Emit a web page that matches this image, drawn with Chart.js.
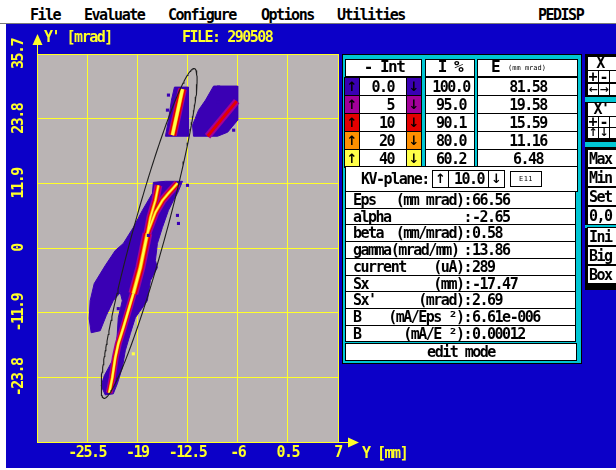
<!DOCTYPE html>
<html>
<head>
<meta charset="utf-8">
<title>PEDISP</title>
<script src="https://cdn.jsdelivr.net/npm/chart.js@4.4.1/dist/chart.umd.min.js"></script>
<style>
  html, body { margin: 0; padding: 0; }
  body { width: 616px; height: 470px; position: relative; overflow: hidden; background: #fff; }
  .box { position: absolute; box-sizing: border-box; }
  .t { position: absolute; font: bold 15px "DejaVu Sans Mono", monospace; letter-spacing: -1.5px;
       white-space: pre; line-height: 16px; color: #000; }
  .arr { font-family: "DejaVu Sans", sans-serif; }
  #menu { position: absolute; left: 0; top: 0; width: 616px; height: 23px; background: #fff; border-bottom: 1px solid #7a7a7a; }
  #screen { position: absolute; left: 6px; top: 24px; width: 610px; height: 444px; background: #0c00c8; }
  #plot { position: absolute; left: 6px; top: 24px; }
</style>
</head>
<body>
<div id="menu"></div>
<div id="screen"></div>
<canvas id="plot" width="414" height="444"></canvas>
<div id="ui"></div>
<script>
// ---- intensity levels (% of peak) and what they enclose ----
const intThresholds = ['0.0', '5', '10', '20', '40'];
const beamPercent   = ['100.0', '95.0', '90.1', '80.0', '60.2'];
const emittance     = ['81.58', '19.58', '15.59', '11.16', '6.48'];

// ---- beam parameters of the fitted ellipse ----
const paramNames  = ['Eps', 'alpha', 'beta', 'gamma(mrad/mm)', 'current', 'Sx', "Sx'", 'B', 'B'];
const paramUnits  = ['(mm mrad)', '', '(mm/mrad)', '', '(uA)', '(mm)', '(mrad)', '(mA/Eps ²)', '(mA/E ²)'];
const paramValues = ['66.56', '-2.65', '0.58', '13.86', '289', '-17.47', '2.69', '6.61e-006', '0.00012'];
const kvPlane = '10.0';
const fileName = '290508';

// ---- axes ----
const xTickValues = [-32, -25.5, -19, -12.5, -6, 0.5, 7];
const xTickLabels = ['', '-25.5', '-19', '-12.5', '-6', '0.5', '7'];
const yTickValues = [-35.7, -23.8, -11.9, 0, 11.9, 23.8, 35.7];
const yTickLabels = ['', '-23.8', '-11.9', '0', '11.9', '23.8', '35.7'];

// ---- measured distribution: outer (0 %) contours, Y [mm] / Y' [mrad] ----
const blobUpperLeft = [[-14.19,29.61],[-12.37,29.61],[-12.37,20.57],[-15.36,20.57],[-14.97,23.52],[-14.58,27.22]];
const blobUpperRight = [[-9.12,29.8],[-6.0,29.8],[-6.0,23.52],[-6.65,22.42],[-7.3,21.31],[-8.6,20.57],
  [-11.72,20.57],[-11.85,22.6],[-11.07,25.37],[-10.16,27.22]];
const blobMain = [[-16.92,12.08],[-15.36,12.27],[-13.15,12.27],[-13.8,10.06],[-14.32,8.76],[-14.97,6.92],
  [-15.75,3.78],[-16.4,0.83],[-16.66,-2.31],[-16.4,-3.6],[-17.31,-6.0],[-17.7,-9.69],[-19.26,-12.82],
  [-19.91,-15.77],[-20.56,-18.91],[-20.95,-22.05],[-21.6,-25.0],[-22.12,-26.84],[-23.16,-27.03],
  [-23.68,-25.37],[-23.29,-23.52],[-22.25,-20.76],[-21.73,-17.99],[-21.6,-15.77],[-21.47,-12.82],
  [-20.95,-9.69],[-21.21,-8.21],[-22.12,-9.69],[-23.03,-12.45],[-23.81,-15.22],[-24.98,-15.59],
  [-25.24,-13.01],[-25.11,-9.69],[-24.59,-6.55],[-23.16,-3.23],[-21.86,-0.46],[-20.82,0.83],
  [-19.52,3.78],[-18.35,6.92],[-17.05,10.06]];

// ---- ridges of the higher intensity levels ----
const coreUpperLeft  = [[-13.15,29.24],[-14.45,20.76]];
const coreUpperRight = [[-9.9,20.57],[-6.13,27.03]];
const ridgeBranchL   = [[-16.27,11.53],[-16.66,8.76],[-17.31,5.63],[-17.7,2.68]];
const ridgeBranchR   = [[-13.8,11.9],[-14.97,10.06],[-15.75,8.76],[-16.66,6.55],[-17.7,2.68]];
const ridgeUpper     = [[-17.7,2.68],[-18.61,-3.6],[-19.52,-8.39]];
const ridgeLower     = [[-19.52,-8.39],[-20.17,-11.53],[-20.82,-14.67],[-21.47,-17.62],[-21.86,-20.2],
  [-22.25,-23.89],[-22.64,-26.66]];

// ---- isolated cells ----
const strayCells = [[-14.97,28.14],[-15.1,25.37],[-8.47,29.61],[-8.6,26.84],[-6.52,21.68],[-12.5,11.53],
  [-13.8,6.0],[-13.67,4.52],[-17.57,2.31],[-22.77,-10.98],[-21.47,-11.16]];
const strayHot = [[-19.52,-19.47]];

// ---- look ----
const FONT = '"DejaVu Sans Mono", monospace';
const BLUE_BG = '#0c00c8', PLOT_BG = '#bab4b4', YELLOW = '#ffff28', CYAN = '#00c6d4';
const levelColors = ['#3a00b4', '#a2009a', '#e40000', '#ff9000', '#ffff48'];
// line widths (px) of the 5 %, 10 %, 20 %, 40 % levels along each ridge
const ridgeStyles = [
  { path: coreUpperLeft,  widths: [9, 7, 4, 3] },
  { path: coreUpperRight, widths: [7, 3, 0, 0] },
  { path: ridgeBranchL,   widths: [8, 5, 3, 1.5] },
  { path: ridgeBranchR,   widths: [8, 5, 3, 1.5] },
  { path: ridgeUpper,     widths: [10, 7, 4, 2.5] },
  { path: ridgeLower,     widths: [7, 4.5, 3, 2] }
];

const pts = a => a.map(p => ({ x: p[0], y: p[1] }));
const closed = a => pts(a.concat([a[0]]));

const datasets = [];
[blobUpperLeft, blobUpperRight, blobMain].forEach(b => datasets.push({
  data: closed(b), showLine: true, fill: 'shape', backgroundColor: levelColors[0],
  borderColor: levelColors[0], borderWidth: 1, pointRadius: 0, order: 20
}));
for (let lvl = 1; lvl <= 4; lvl++) {
  ridgeStyles.forEach(r => {
    if (!r.widths[lvl - 1]) return;
    datasets.push({
      data: pts(r.path), showLine: true, fill: false, borderColor: levelColors[lvl],
      borderWidth: r.widths[lvl - 1], borderCapStyle: 'butt', borderJoinStyle: 'round',
      pointRadius: 0, order: 20 - lvl * 3
    });
  });
}
datasets.push({ data: pts(strayCells), pointStyle: 'rect', pointRadius: 2.2, backgroundColor: levelColors[0], borderWidth: 0, order: 4 });
datasets.push({ data: pts(strayHot), pointStyle: 'rect', pointRadius: 2.2, backgroundColor: levelColors[4], borderWidth: 0, order: 4 });

// emittance ellipse from the Twiss parameters in the table
const eps = parseFloat(paramValues[0]), alpha = parseFloat(paramValues[1]), beta = parseFloat(paramValues[2]);
const cx = parseFloat(paramValues[5]), cxp = parseFloat(paramValues[6]);
const ellipse = [];
for (let k = 0; k <= 240; k++) {
  const t = 2 * Math.PI * k / 240;
  ellipse.push({ x: cx + Math.sqrt(eps * beta) * Math.cos(t),
                 y: cxp - Math.sqrt(eps / beta) * (alpha * Math.cos(t) + Math.sin(t)) });
}
datasets.push({ data: ellipse, showLine: true, fill: false, borderColor: '#1e1e1e', borderWidth: 1.1, pointRadius: 0, order: 1 });

// gray plot field, axis arrows
const screenPlugin = {
  id: 'screen',
  beforeDraw(chart) {
    const { ctx, chartArea: a } = chart;
    ctx.save();
    ctx.fillStyle = PLOT_BG;
    ctx.fillRect(a.left, a.top, a.right - a.left, a.bottom - a.top);
    ctx.restore();
    ctx.letterSpacing = '-1.5px';
  },
  afterDraw(chart) {
    const { ctx, chartArea: a } = chart;
    ctx.save();
    ctx.strokeStyle = YELLOW; ctx.fillStyle = YELLOW; ctx.lineWidth = 1;
    const yb = Math.round(a.bottom) + 0.5;
    ctx.beginPath(); ctx.moveTo(a.right, yb); ctx.lineTo(a.right + 11, yb); ctx.stroke();
    ctx.beginPath(); ctx.moveTo(a.right + 10, yb - 5); ctx.lineTo(a.right + 21, yb); ctx.lineTo(a.right + 10, yb + 5); ctx.closePath(); ctx.fill();
    const xl = Math.round(a.left) + 0.5;
    ctx.beginPath(); ctx.moveTo(xl, a.top); ctx.lineTo(xl, a.top - 10); ctx.stroke();
    ctx.beginPath(); ctx.moveTo(xl - 5, a.top - 9); ctx.lineTo(xl, a.top - 20); ctx.lineTo(xl + 5, a.top - 9); ctx.closePath(); ctx.fill();
    ctx.restore();
    ctx.letterSpacing = '0px';
  }
};

Chart.defaults.font.family = FONT;
const tickFont = { family: FONT, size: 15, weight: 'bold' };
new Chart(document.getElementById('plot'), {
  type: 'scatter',
  data: { datasets },
  options: {
    responsive: false, animation: false, devicePixelRatio: 1,
    layout: { padding: { left: 0, top: 30, right: 82, bottom: 0 } },
    plugins: { legend: { display: false }, tooltip: { enabled: false } },
    elements: { line: { tension: 0 } },
    events: [],
    scales: {
      x: {
        type: 'linear', min: -32, max: 7, z: 1,
        afterBuildTicks: s => { s.ticks = xTickValues.map(v => ({ value: v })); },
        ticks: { color: YELLOW, font: tickFont, padding: 2, maxRotation: 0, autoSkip: false,
                 callback: (v, i) => xTickLabels[i] },
        grid: { color: YELLOW, lineWidth: 1, drawTicks: false },
        border: { display: true, color: YELLOW, width: 1 },
        afterFit: s => { s.height = 26; }
      },
      y: {
        type: 'linear', min: -35.7, max: 35.7, z: 1,
        afterBuildTicks: s => { s.ticks = yTickValues.map(v => ({ value: v })); },
        ticks: { color: YELLOW, font: tickFont, padding: -5, minRotation: 90, maxRotation: 90,
                 crossAlign: 'center', autoSkip: false, callback: (v, i) => yTickLabels[i] },
        grid: { color: YELLOW, lineWidth: 1, drawTicks: false },
        border: { display: true, color: YELLOW, width: 1 },
        afterFit: s => { s.width = 31; }
      }
    }
  },
  plugins: [screenPlugin]
});

// ---- text-mode interface around the plot ----
const ui = document.getElementById('ui');
function box(x, y, w, h, bg, border) {
  const d = document.createElement('div');
  d.className = 'box';
  Object.assign(d.style, { left: x + 'px', top: y + 'px', width: w + 'px', height: h + 'px',
    background: bg || '#fff', border: border === undefined ? '1px solid #000' : border });
  ui.appendChild(d);
  return d;
}
function text(s, x, y, opt = {}) {
  const d = document.createElement('div');
  d.className = 't' + (opt.cls ? ' ' + opt.cls : '');
  d.textContent = s;
  d.style.top = (y - 8) + 'px';
  if (opt.size) d.style.fontSize = opt.size + 'px';
  if (opt.ls !== undefined) d.style.letterSpacing = opt.ls + 'px';
  if (opt.color) d.style.color = opt.color;
  if (opt.weight) d.style.fontWeight = opt.weight;
  const align = opt.align || 'left';
  if (align === 'left') d.style.left = x + 'px';
  else if (align === 'center') { d.style.left = (x - 100) + 'px'; d.style.width = '200px'; d.style.textAlign = 'center'; }
  else { d.style.left = (x - 200) + 'px'; d.style.width = '200px'; d.style.textAlign = 'right'; }
  ui.appendChild(d);
  return d;
}
const arrow = (s, x, y, size) => text(s, x, y, { align: 'center', size: size || 13, ls: 0, cls: 'arr' });

// menu bar
[['File', 30], ['Evaluate', 84], ['Configure', 168], ['Options', 261], ['Utilities', 337], ['PEDISP', 538]]
  .forEach(([s, x]) => text(s, x, 15));

// plot captions
text("Y' [mrad]", 44, 37, { color: YELLOW });
text('FILE: ' + fileName, 182, 37, { color: YELLOW });
text('Y [mm]', 362, 453, { color: YELLOW });

// level table
box(342, 54, 240, 310, CYAN);
box(345, 59, 77, 18); text('- Int', 384, 67, { align: 'center', size: 16 });
box(425, 59, 50, 18); text('I %', 450, 67, { align: 'center', size: 16 });
box(477, 59, 101, 18); text('E', 491, 67, { size: 16 });
text('(mm mrad)', 527, 68, { size: 7, ls: 0, weight: 'normal', align: 'center' });
intThresholds.forEach((lv, i) => {
  const top = 77 + i * 18, cy = top + 9.5;
  box(344, top, 16, 19, levelColors[i]); arrow('↑', 352, cy);
  box(359, top, 48, 19); text(lv, 394, cy, { align: 'right' });
  box(406, top, 16, 19, levelColors[i]); arrow('↓', 414, cy);
  box(425, top, 50, 19); text(beamPercent[i], 451, cy, { align: 'center' });
  box(477, top, 101, 19); text(emittance[i], 528, cy, { align: 'center' });
});

// KV-plane selector
box(345, 166, 233, 26);
text('KV-plane:', 361, 179);
box(432, 170, 17, 18); arrow('↑', 440.5, 179);
box(448, 170, 41, 18); text(kvPlane, 469, 179, { align: 'center' });
box(488, 170, 17, 18); arrow('↓', 496.5, 179);
box(510, 171, 32, 16); text('E11', 526, 179, { align: 'center', size: 7, ls: 0.5, weight: 'normal' });

// parameter rows
paramNames.forEach((name, j) => {
  const top = Math.round(191 + j * 16.7), next = Math.round(191 + (j + 1) * 16.7);
  box(345, top, 231, next - top + 1);
  const cy = (top + next) / 2 + 0.5;
  text(name, 353, cy);
  text(paramUnits[j] + ':', 471, cy, { align: 'right' });
  text(paramValues[j], 472, cy);
});
box(345, 343, 232, 18); text('edit mode', 461, 352, { align: 'center' });

// side button column
box(585, 54, 40, 236, '#000', 'none');
box(587, 56, 40, 15); text('X', 600, 63, { align: 'center' });
box(587, 70, 12, 13); box(598, 70, 12, 13); box(609, 70, 12, 13);
text('+', 593, 76.5, { align: 'center', ls: 0 }); text('-', 604, 76.5, { align: 'center', ls: 0 });
box(587, 83, 12, 13); box(598, 83, 12, 13); box(609, 83, 12, 13);
arrow('←', 593, 89.5, 11); arrow('→', 604, 89.5, 11);
box(585, 97, 40, 5, CYAN, 'none');
box(587, 102, 40, 15); text("X'", 601, 109, { align: 'center' });
box(587, 116, 12, 12); box(598, 116, 12, 12); box(609, 116, 12, 12);
text('+', 593, 122, { align: 'center', ls: 0 }); text('-', 604, 122, { align: 'center', ls: 0 });
box(587, 127, 12, 12); box(598, 127, 12, 12); box(609, 127, 12, 12);
arrow('↑', 593, 133, 11); arrow('↓', 604, 133, 11);
box(585, 142, 40, 5, CYAN, 'none');
[['Max', 149], ['Min', 168], ['Set', 187], ['0,0', 206]].forEach(([s, y]) => {
  box(587, y, 40, 19); text(s, 589, y + 9.5);
});
box(585, 225, 40, 3, CYAN, 'none');
[['Ini', 227], ['Big', 246], ['Box', 265]].forEach(([s, y]) => {
  box(587, y, 40, 19); text(s, 589, y + 9.5);
});
</script>
</body>
</html>
